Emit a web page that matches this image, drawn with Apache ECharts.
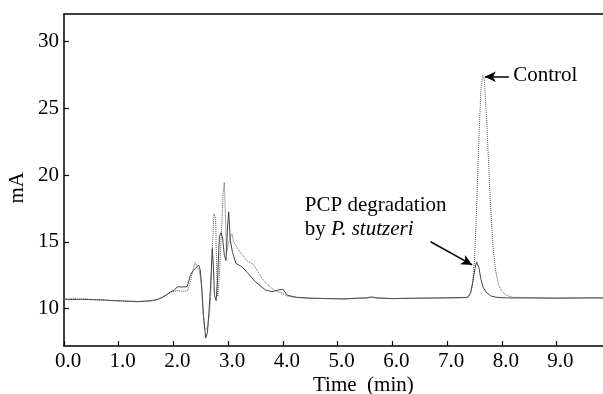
<!DOCTYPE html>
<html>
<head>
<meta charset="utf-8">
<script src="https://cdn.jsdelivr.net/npm/echarts@6/dist/echarts.min.js"></script>
<style>html,body{margin:0;padding:0;background:#fff;}#c{width:603px;height:394px;}</style>
</head>
<body>
<div id="c"></div>
<script>
// PCP degradation by P. stutzeri (solid)
const pcpTime = [0.00,0.15,0.30,0.45,0.60,0.75,0.90,1.05,1.20,1.35,1.50,1.62,1.72,1.80,1.88,1.95,2.02,2.07,2.15,2.25,2.31,2.36,2.40,2.46,2.49,2.52,2.55,2.59,2.62,2.65,2.68,2.71,2.73,2.75,2.78,2.81,2.84,2.87,2.90,2.93,2.96,2.99,3.01,3.04,3.08,3.14,3.25,3.35,3.50,3.68,3.80,3.92,4.00,4.08,4.25,4.50,4.80,5.10,5.40,5.55,5.62,5.70,6.00,6.40,6.80,7.20,7.38,7.43,7.47,7.51,7.54,7.58,7.62,7.66,7.72,7.80,7.90,8.10,8.50,9.00,9.50,9.85];
const pcpValues = [10.72,10.68,10.70,10.68,10.66,10.64,10.60,10.58,10.55,10.52,10.56,10.60,10.70,10.85,11.05,11.25,11.40,11.64,11.62,11.64,12.50,12.85,13.00,13.27,12.90,11.40,9.40,7.80,8.20,9.80,11.80,14.50,13.20,11.00,10.60,12.50,15.40,15.70,15.20,14.00,13.60,16.20,17.25,15.10,14.20,13.40,13.14,12.70,12.00,11.40,11.27,11.40,11.45,11.00,10.85,10.78,10.75,10.72,10.78,10.80,10.88,10.80,10.75,10.78,10.80,10.82,10.85,11.20,12.00,13.00,13.50,13.10,12.20,11.60,11.20,10.95,10.85,10.80,10.80,10.78,10.80,10.80];
// Control (dotted)
const ctrlTime = [0.00,0.08,0.15,0.25,0.40,0.60,0.80,1.00,1.20,1.40,1.55,1.70,1.80,1.90,1.97,2.07,2.17,2.26,2.31,2.35,2.40,2.44,2.47,2.51,2.54,2.57,2.60,2.63,2.66,2.68,2.71,2.74,2.77,2.79,2.81,2.84,2.88,2.91,2.93,2.95,2.97,3.00,3.04,3.07,3.10,3.19,3.34,3.46,3.65,3.83,3.99,4.08,4.20,4.40,4.80,5.20,5.60,6.00,6.50,7.00,7.35,7.42,7.46,7.50,7.54,7.58,7.62,7.65,7.68,7.72,7.76,7.80,7.84,7.89,7.94,8.00,8.08,8.20,8.50,9.00,9.50,9.85];
const ctrlValues = [10.78,10.65,10.80,10.70,10.72,10.66,10.62,10.58,10.55,10.54,10.58,10.68,10.85,11.10,11.25,11.35,11.30,11.35,12.00,12.80,13.45,13.10,12.90,11.90,9.90,8.40,8.50,8.65,9.80,10.90,14.50,17.10,16.80,13.00,10.90,12.50,16.00,18.80,19.45,17.00,14.10,14.80,15.40,15.60,15.00,14.40,13.60,13.30,12.10,11.40,11.15,10.95,10.85,10.80,10.75,10.75,10.85,10.75,10.78,10.80,10.82,11.00,11.60,13.50,17.50,22.50,26.50,27.47,27.20,24.50,20.80,17.30,14.60,12.80,11.80,11.30,11.00,10.85,10.82,10.80,10.80,10.80];
const xTicks = [0,1,2,3,4,5,6,7,8,9];
const yTicks = [10,15,20,25,30];

const FONT = 'Liberation Serif';
const chart = echarts.init(document.getElementById('c'), null, {renderer:'canvas'});
const pcpData = pcpTime.map((t,i)=>[t,pcpValues[i]]);
const ctrlData = ctrlTime.map((t,i)=>[t,ctrlValues[i]]);

chart.setOption({
  animation:false,
  backgroundColor:'#fff',
  grid:{left:64,right:0,top:14,bottom:48,containLabel:false},
  xAxis:[{
    type:'value',min:0,max:9.85,
    axisLine:{show:true,lineStyle:{color:'#000',width:1.5}},
    axisTick:{show:true,inside:true,length:5,customValues:xTicks,lineStyle:{color:'#000',width:1.2}},
    axisLabel:{customValues:xTicks,formatter:v=>Number(v).toFixed(1),fontFamily:FONT,fontSize:21,color:'#000',margin:5,padding:[0,0,0,8]},
    splitLine:{show:false}
  },{
    type:'value',position:'top',min:0,max:9.85,
    axisLine:{show:true,lineStyle:{color:'#000',width:1.5}},
    axisTick:{show:false},axisLabel:{show:false},splitLine:{show:false}
  }],
  yAxis:{
    type:'value',min:7.2,max:32.07,
    axisLine:{show:true,lineStyle:{color:'#000',width:1.5}},
    axisTick:{show:true,inside:true,length:5,customValues:yTicks,lineStyle:{color:'#000',width:1.2}},
    axisLabel:{customValues:yTicks,fontFamily:FONT,fontSize:21,color:'#000',margin:5},
    splitLine:{show:false}
  },
  series:[{
    name:'PCP degradation by P. stutzeri',type:'line',data:pcpData,showSymbol:false,
    lineStyle:{color:'#444',width:1},
    markLine:{silent:true,symbol:['none','arrow'],symbolSize:[8,11],label:{show:false},
      lineStyle:{color:'#000',width:1.5,type:'solid'},
      data:[[{coord:[6.70,15.01]},{coord:[7.46,13.27]}]]}
  },{
    name:'Control',type:'line',data:ctrlData,showSymbol:false,
    lineStyle:{color:'#555',width:1,type:'dotted'},
    markLine:{silent:true,symbol:['none','arrow'],symbolSize:[8,11],label:{show:false},
      lineStyle:{color:'#000',width:1.5,type:'solid'},
      data:[[{coord:[8.13,27.37]},{coord:[7.69,27.37]}]]}
  }]
});

const p1 = chart.convertToPixel({xAxisIndex:0,yAxisIndex:0},[8.21,27.37]);
const p2 = chart.convertToPixel({xAxisIndex:0,yAxisIndex:0},[4.40,17.76]);
chart.setOption({graphic:[
  {type:'text',left:p1[0],top:p1[1]-12,style:{text:'Control',fontFamily:FONT,fontSize:21,fill:'#000'}},
  {type:'text',left:p2[0],top:p2[1]-12,style:{
    text:'PCP degradation\nby {i|P. stutzeri}',fontFamily:FONT,fontSize:21,lineHeight:24,fill:'#000',
    rich:{i:{fontStyle:'italic',fontFamily:FONT,fontSize:21,lineHeight:24}}}},
  {type:'text',left:7,top:172,rotation:Math.PI/2,style:{text:'mA',fontFamily:FONT,fontSize:21,fill:'#000'}},
  {type:'text',left:313,top:375,style:{text:'Time  (min)',fontFamily:FONT,fontSize:21,fill:'#000'}}
]});
</script>
</body>
</html>
